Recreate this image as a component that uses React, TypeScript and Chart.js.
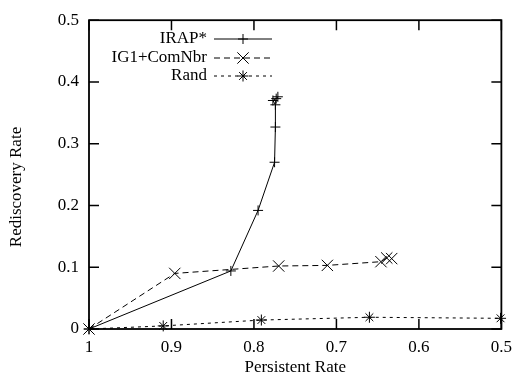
import React, { useEffect, useRef } from 'react';
import { Chart, registerables } from 'chart.js';

Chart.register(...registerables);

const seriesNames = ['IRAP*', 'IG1+ComNbr', 'Rand'];

const irapX = [1, 0.828, 0.795, 0.775, 0.774, 0.774, 0.777, 0.773, 0.771];
const irapY = [0, 0.094, 0.192, 0.27, 0.327, 0.363, 0.37, 0.373, 0.376];

const ig1X = [1, 0.896, 0.77, 0.711, 0.646, 0.639, 0.633];
const ig1Y = [0, 0.09, 0.102, 0.103, 0.109, 0.115, 0.114];

const randX = [1, 0.91, 0.791, 0.66, 0.501];
const randY = [0, 0.005, 0.0145, 0.019, 0.0173];

const xTicks = [1, 0.9, 0.8, 0.7, 0.6, 0.5];
const xTickLabels = ['1', '0.9', '0.8', '0.7', '0.6', '0.5'];
const yTicks = [0, 0.1, 0.2, 0.3, 0.4, 0.5];
const yTickLabels = ['0', '0.1', '0.2', '0.3', '0.4', '0.5'];

const xTitle = 'Persistent Rate';
const yTitle = 'Rediscovery Rate';

const FONT = '"Liberation Serif", "DejaVu Serif", "Times New Roman", serif';
const FONT_SIZE = 17;

const toPoints = (xs: number[], ys: number[]) => xs.map((x, i) => ({ x, y: ys[i] }));

const dashes: number[][] = [[], [6, 4], [3, 4]];
const styles = ['cross', 'crossRot', 'star'];
const radii = [5, 8, 5.5];

function drawMarker(ctx: CanvasRenderingContext2D, style: string, x: number, y: number, r: number) {
  ctx.beginPath();
  if (style === 'cross' || style === 'star') {
    ctx.moveTo(x - r, y);
    ctx.lineTo(x + r, y);
    ctx.moveTo(x, y - r);
    ctx.lineTo(x, y + r);
  }
  if (style === 'crossRot' || style === 'star') {
    const d = r * Math.SQRT1_2;
    ctx.moveTo(x - d, y - d);
    ctx.lineTo(x + d, y + d);
    ctx.moveTo(x - d, y + d);
    ctx.lineTo(x + d, y - d);
  }
  ctx.stroke();
}

const framePlugin = {
  id: 'frameTicks',
  beforeDatasetsDraw(chart: any) {
    const { ctx, chartArea } = chart;
    const { left, right, top, bottom } = chartArea;
    const xs = chart.scales.x;
    const ys = chart.scales.y;
    const L = 10;
    ctx.save();
    ctx.strokeStyle = '#000';
    ctx.lineWidth = 1.5;
    ctx.setLineDash([]);
    ctx.beginPath();
    xTicks.forEach((v) => {
      const px = xs.getPixelForValue(v);
      ctx.moveTo(px, bottom);
      ctx.lineTo(px, bottom - L);
      ctx.moveTo(px, top);
      ctx.lineTo(px, top + L);
    });
    yTicks.forEach((v) => {
      const py = ys.getPixelForValue(v);
      ctx.moveTo(left, py);
      ctx.lineTo(left + L, py);
      ctx.moveTo(right, py);
      ctx.lineTo(right - L, py);
    });
    ctx.stroke();
    ctx.lineWidth = 1.8;
    ctx.strokeRect(left, top, right - left, bottom - top);
    ctx.restore();
  },
};

const legendPlugin = {
  id: 'gnuLegend',
  afterDraw(chart: any) {
    const { ctx } = chart;
    const textRight = 207;
    const x0 = 214;
    const x1 = 272;
    const mx = 243;
    const rows = [39, 58, 76];
    ctx.save();
    ctx.font = `${FONT_SIZE}px ${FONT}`;
    ctx.fillStyle = '#000';
    ctx.strokeStyle = '#000';
    ctx.textAlign = 'right';
    ctx.textBaseline = 'middle';
    seriesNames.forEach((name, i) => {
      const y = rows[i];
      ctx.fillText(name, textRight, y);
      ctx.lineWidth = 1;
      ctx.setLineDash(dashes[i]);
      ctx.beginPath();
      ctx.moveTo(x0, y);
      ctx.lineTo(x1, y);
      ctx.stroke();
      ctx.setLineDash([]);
      drawMarker(ctx, styles[i], mx, y, radii[i]);
    });
    // y-axis title (gnuplot places it slightly below the axis centre)
    ctx.translate(17, 187);
    ctx.rotate(-Math.PI / 2);
    ctx.textAlign = 'center';
    ctx.fillText(yTitle, 0, 0);
    ctx.restore();
  },
};

export default function App() {
  const ref = useRef<HTMLCanvasElement | null>(null);

  useEffect(() => {
    document.body.style.margin = '0';
    if (!ref.current) return;
    const all = [toPoints(irapX, irapY), toPoints(ig1X, ig1Y), toPoints(randX, randY)];
    const chart = new Chart(ref.current, {
      type: 'line',
      data: {
        datasets: all.map((data, i) => ({
          label: seriesNames[i],
          data,
          borderColor: '#000',
          borderWidth: 1,
          borderDash: dashes[i],
          pointStyle: styles[i] as any,
          pointRadius: radii[i],
          pointHoverRadius: radii[i],
          pointBorderColor: '#000',
          pointBackgroundColor: '#000',
          pointBorderWidth: 1,
          fill: false,
          tension: 0,
          clip: false as any,
        })),
      },
      options: {
        animation: false,
        responsive: false,
        maintainAspectRatio: false,
        layout: { padding: { top: 19, right: 13, left: 0, bottom: 0 } },
        plugins: {
          legend: { display: false },
          tooltip: { enabled: false },
        },
        scales: {
          x: {
            type: 'linear',
            min: 0.5,
            max: 1,
            reverse: true,
            afterBuildTicks: (s: any) => {
              s.ticks = xTicks.map((v) => ({ value: v }));
            },
            afterFit: (s: any) => {
              s.height = 50;
            },
            ticks: {
              padding: 8,
              color: '#000',
              font: { family: FONT, size: FONT_SIZE },
              maxRotation: 0,
              autoSkip: false,
              callback: (v: any) => {
                const i = xTicks.findIndex((t) => Math.abs(t - Number(v)) < 1e-9);
                return i >= 0 ? xTickLabels[i] : '';
              },
            },
            grid: { display: false, drawTicks: false },
            border: { display: false },
            title: {
              display: true,
              text: xTitle,
              color: '#000',
              font: { family: FONT, size: FONT_SIZE },
              padding: { top: 0, bottom: 1 },
            },
          },
          y: {
            type: 'linear',
            min: 0,
            max: 0.5,
            afterBuildTicks: (s: any) => {
              s.ticks = yTicks.map((v) => ({ value: v }));
            },
            afterFit: (s: any) => {
              s.width = 89;
            },
            ticks: {
              padding: 10,
              color: '#000',
              font: { family: FONT, size: FONT_SIZE },
              autoSkip: false,
              callback: (v: any) => {
                const i = yTicks.findIndex((t) => Math.abs(t - Number(v)) < 1e-9);
                return i >= 0 ? yTickLabels[i] : '';
              },
            },
            grid: { display: false, drawTicks: false },
            border: { display: false },
            title: { display: false },
          },
        },
      },
      plugins: [framePlugin, legendPlugin],
    });
    return () => chart.destroy();
  }, []);

  return (
    <div style={{ position: 'absolute', left: 0, top: 0, width: 520, height: 379, background: '#fff' }}>
      <canvas ref={ref} width={520} height={379} style={{ display: 'block', width: 520, height: 379 }} />
    </div>
  );
}
